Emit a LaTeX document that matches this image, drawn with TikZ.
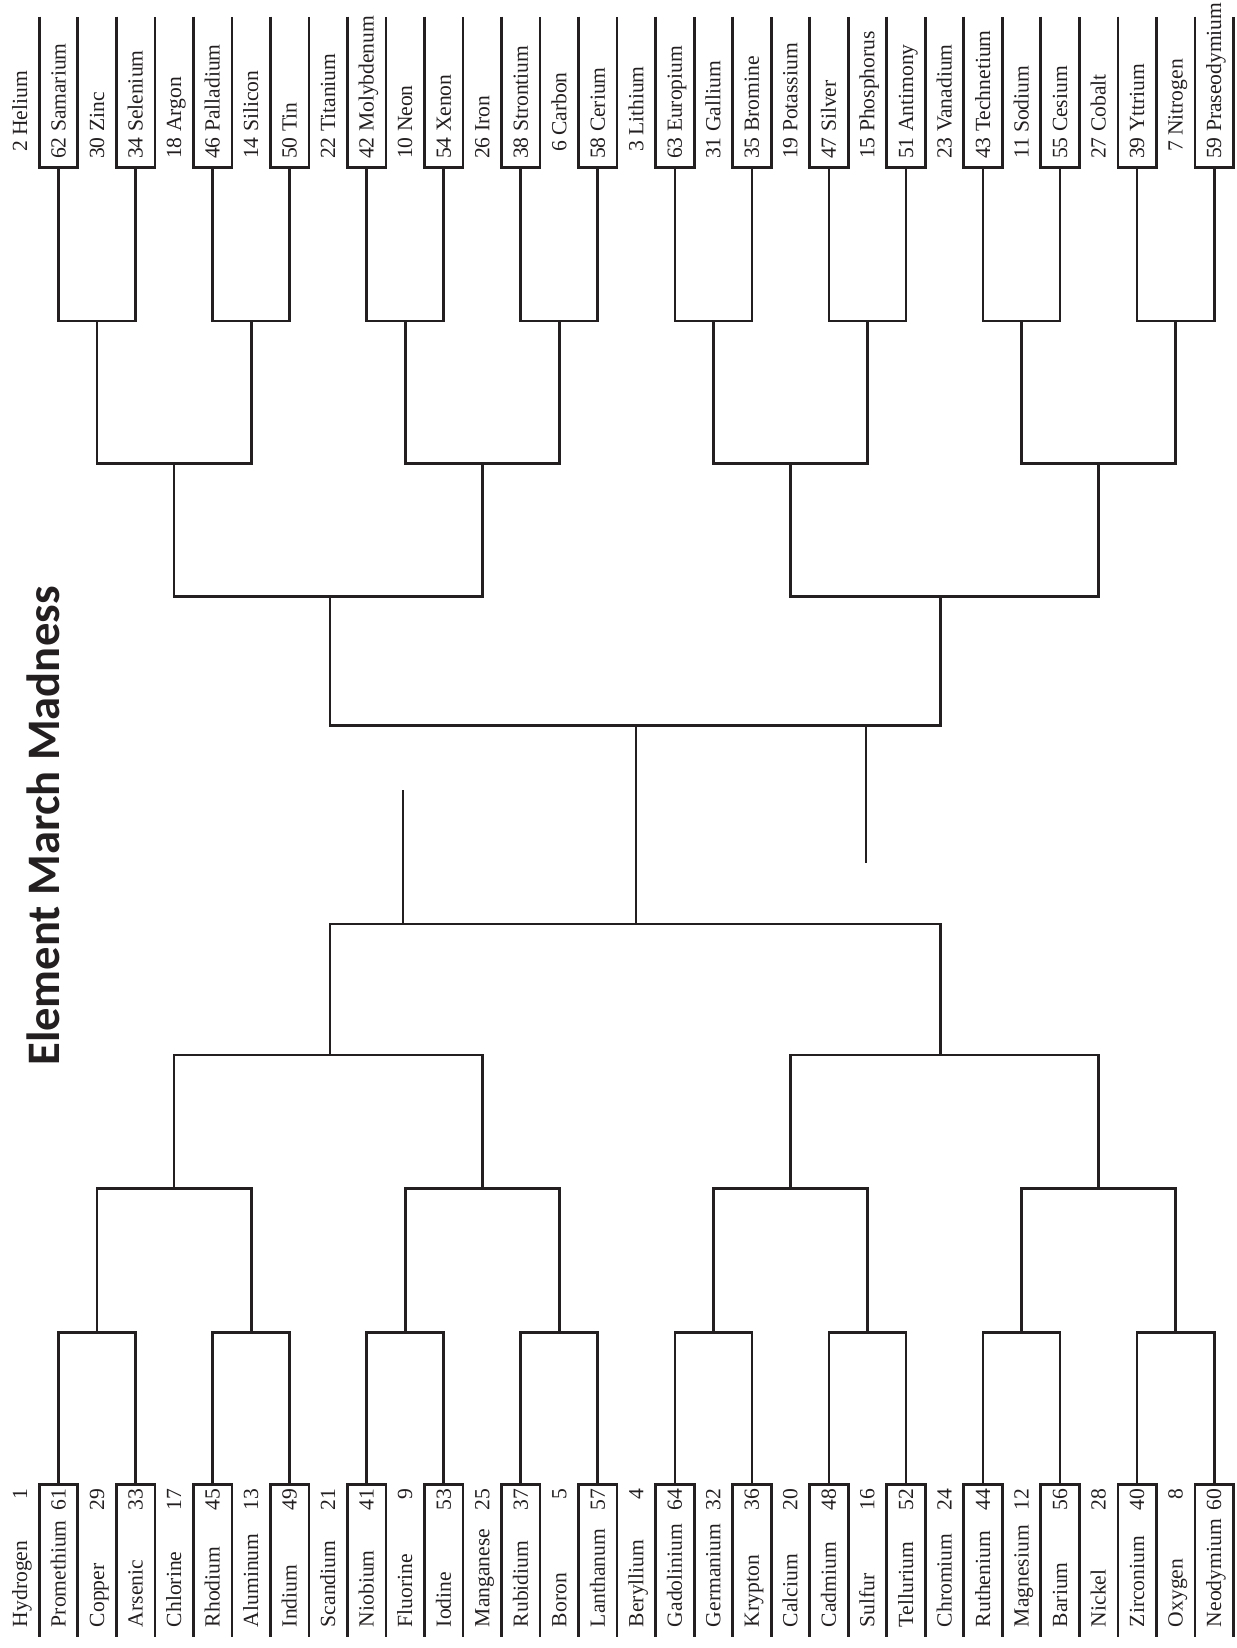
\documentclass[tikz,border=0pt]{standalone}
\usepackage{fontspec}
\setmainfont{Liberation Serif}
\newfontfamily\titlefont{Carlito}
\definecolor{ink}{HTML}{231F20}
\begin{document}
\begin{tikzpicture}[x=0.5pt,y=-0.5pt,
  wire/.style={draw=ink,line width=1.35pt},
  lab/.style={inner sep=0pt,outer sep=0pt,rotate=90,anchor=base west,text=ink,font=\fontsize{10.8}{12}\selectfont},
  blab/.style={lab,text width=69pt},
  ttl/.style={inner sep=0pt,rotate=90,anchor=base,text=ink,font=\titlefont\bfseries\fontsize{23.3}{27}\selectfont}]
\useasboundingbox (0,0) rectangle (1236,1648);
\def\p{38.52}
\def\xo{0.78}
% ---------- labels ----------
\foreach \k/\n/\m in {0/2/Helium,1/62/Samarium,2/30/Zinc,3/34/Selenium,4/18/Argon,5/46/Palladium,6/14/Silicon,7/50/Tin,8/22/Titanium,9/42/Molybdenum,10/10/Neon,11/54/Xenon,12/26/Iron,13/38/Strontium,14/6/Carbon,15/58/Cerium,16/3/Lithium,17/63/Europium,18/31/Gallium,19/35/Bromine,20/19/Potassium,21/47/Silver,22/15/Phosphorus,23/51/Antimony,24/23/Vanadium,25/43/Technetium,26/11/Sodium,27/55/Cesium,28/27/Cobalt,29/39/Yttrium,30/7/Nitrogen,31/59/Praseodymium}{
  \pgfmathsetmacro\cx{\xo+(\k+0.5)*\p+7}
  \node[lab] (tl\k) at (\cx,159) {\ifnum\n<10 \hspace*{3.5pt}\fi\n\ \m};
}
\foreach \k/\m/\n in {0/Hydrogen/1,1/Promethium/61,2/Copper/29,3/Arsenic/33,4/Chlorine/17,5/Rhodium/45,6/Aluminum/13,7/Indium/49,8/Scandium/21,9/Niobium/41,10/Fluorine/9,11/Iodine/53,12/Manganese/25,13/Rubidium/37,14/Boron/5,15/Lanthanum/57,16/Beryllium/4,17/Gadolinium/64,18/Germanium/32,19/Krypton/36,20/Calcium/20,21/Cadmium/48,22/Sulfur/16,23/Tellurium/52,24/Chromium/24,25/Ruthenium/44,26/Magnesium/12,27/Barium/56,28/Nickel/28,29/Zirconium/40,30/Oxygen/8,31/Neodymium/60}{
  \pgfmathsetmacro\cx{\xo+(\k+0.5)*\p+7}
  \node[blab] (bl\k) at (\cx,1627) {\m\hfill\n};
}
% ---------- boxes ----------
\foreach \i in {0,...,15}{
  \pgfmathsetmacro\xl{\xo+(2*\i+1)*\p}
  \pgfmathsetmacro\xr{\xl+\p}
  \pgfmathsetmacro\xc{\xl+\p/2}
  \draw[wire] (\xl,16.7) |- (\xr,167.7) -- (\xr,16.7);
  \coordinate (tb\i) at (\xc,167.7);
  \draw[wire] (\xl,1636.7) |- (\xr,1484.3) -- (\xr,1636.7);
  \coordinate (bb\i) at (\xc,1484.3);
}
% ---------- joints ----------
\foreach \j in {0,...,7}{
  \pgfmathsetmacro\xc{\xo+(4*\j+2.5)*\p}
  \coordinate (t1\j) at (\xc,321);
  \coordinate (b1\j) at (\xc,1332.7);
}
\foreach \j in {0,...,3}{
  \pgfmathsetmacro\xc{\xo+(8*\j+4.5)*\p}
  \coordinate (t2\j) at (\xc,463.3);
  \coordinate (b2\j) at (\xc,1188.3);
}
\coordinate (t30) at (330,596.7);
\coordinate (b30) at (330,1055);
\coordinate (t31) at (940.5,596.7);
\coordinate (b31) at (940.5,1055);
\coordinate (t4) at (636,725.7);
\coordinate (b4) at (636,924);
% ---------- connectors ----------
\foreach \j in {0,...,7}{
  \pgfmathtruncatemacro\a{2*\j}
  \pgfmathtruncatemacro\b{2*\j+1}
  \draw[wire] (tb\a) |- (t1\j) -| (tb\b);
  \draw[wire] (bb\a) |- (b1\j) -| (bb\b);
}
\foreach \j in {0,...,3}{
  \pgfmathtruncatemacro\a{2*\j}
  \pgfmathtruncatemacro\b{2*\j+1}
  \draw[wire] (t1\a) |- (t2\j) -| (t1\b);
  \draw[wire] (b1\a) |- (b2\j) -| (b1\b);
}
\foreach \j in {0,1}{
  \pgfmathtruncatemacro\a{2*\j}
  \pgfmathtruncatemacro\b{2*\j+1}
  \draw[wire] (t2\a) |- (t3\j) -| (t2\b);
  \draw[wire] (b2\a) |- (b3\j) -| (b2\b);
}
\draw[wire] (t30) |- (t4) -| (t31);
\draw[wire] (b30) |- (b4) -| (b31);
\draw[wire] (t4) -- (b4);
% stray stubs
\coordinate (s1top) at (403,790);
\coordinate (s1bot) at (403,924);
\coordinate (s2top) at (866,725.7);
\coordinate (s2bot) at (866,863);
\draw[wire] (s1top) -- (s1bot);
\draw[wire] (s2top) -- (s2bot);
% title
\node[ttl] (title) at (59,826) {Element March Madness};
\end{tikzpicture}
\end{document}
